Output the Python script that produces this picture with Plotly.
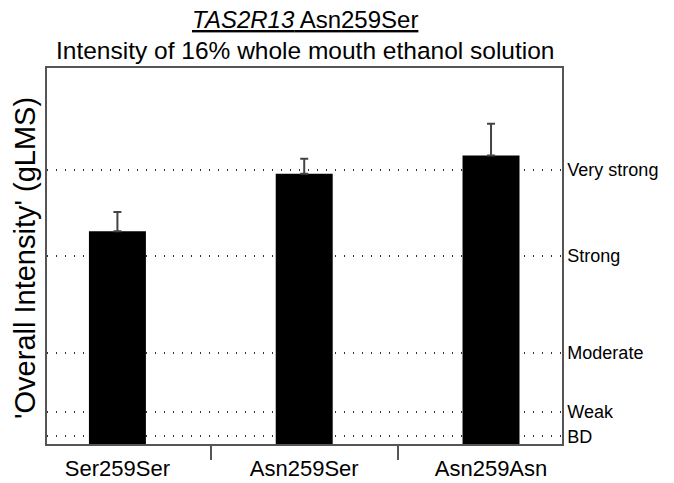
import plotly.graph_objects as go

genotypes = ["Ser259Ser", "Asn259Ser", "Asn259Asn"]
means = [39.6, 50.3, 53.7]
sem = [3.6, 2.8, 5.9]
zero_err = [0, 0, 0]

scale_vals = [1.4, 6, 17, 35, 51]
scale_labels = ["BD", "Weak", "Moderate", "Strong", "Very strong"]

FONT = "Liberation Sans"

fig = go.Figure()
fig.add_trace(go.Bar(
    x=genotypes, y=means, width=0.305,
    marker=dict(color="black", line=dict(width=0)),
    error_y=dict(type="data", symmetric=False, array=sem, arrayminus=zero_err,
                 color="#444444", thickness=2, width=4),
))

fig.update_layout(
    width=674, height=483,
    margin=dict(l=47, r=112, t=68, b=39),
    paper_bgcolor="white", plot_bgcolor="white",
    showlegend=False,
    font=dict(family=FONT, color="black"),
    xaxis=dict(
        range=[-0.377, 2.38], type="category", automargin=False,
        tickson="boundaries", ticks="outside", ticklen=14, tickwidth=1.5,
        tickcolor="#555555", ticklabelstandoff=4,
        showline=True, linecolor="#555555", linewidth=1.5, mirror=True,
        showgrid=False, tickfont=dict(size=22, family=FONT),
    ),
    yaxis=dict(
        range=[0, 70], side="right", automargin=False,
        tickvals=scale_vals, ticktext=scale_labels,
        ticks="", tickfont=dict(size=18, family=FONT),
        showline=True, linecolor="#555555", linewidth=1.5, mirror=True,
        showgrid=True, gridcolor="#333333", gridwidth=1.5, griddash="1px,8px",
        zeroline=False,
    ),
    annotations=[
        dict(text="<u><i>TAS2R13</i> Asn259Ser</u>", x=0.5, y=1, xref="paper", yref="paper",
             xanchor="center", yanchor="bottom", yshift=33, showarrow=False,
             font=dict(size=24, family=FONT)),
        dict(text="Intensity of 16% whole mouth ethanol solution", x=0.5, y=1,
             xref="paper", yref="paper", xanchor="center", yanchor="bottom", yshift=2,
             showarrow=False, font=dict(size=24.5, family=FONT)),
        dict(text="'Overall Intensity' (gLMS)", x=0, y=0.5, xref="paper", yref="paper",
             xanchor="center", yanchor="middle", xshift=-22, yshift=-2, textangle=-90,
             showarrow=False, font=dict(size=29, family=FONT)),
    ],
)

fig.write_html("out.html")
